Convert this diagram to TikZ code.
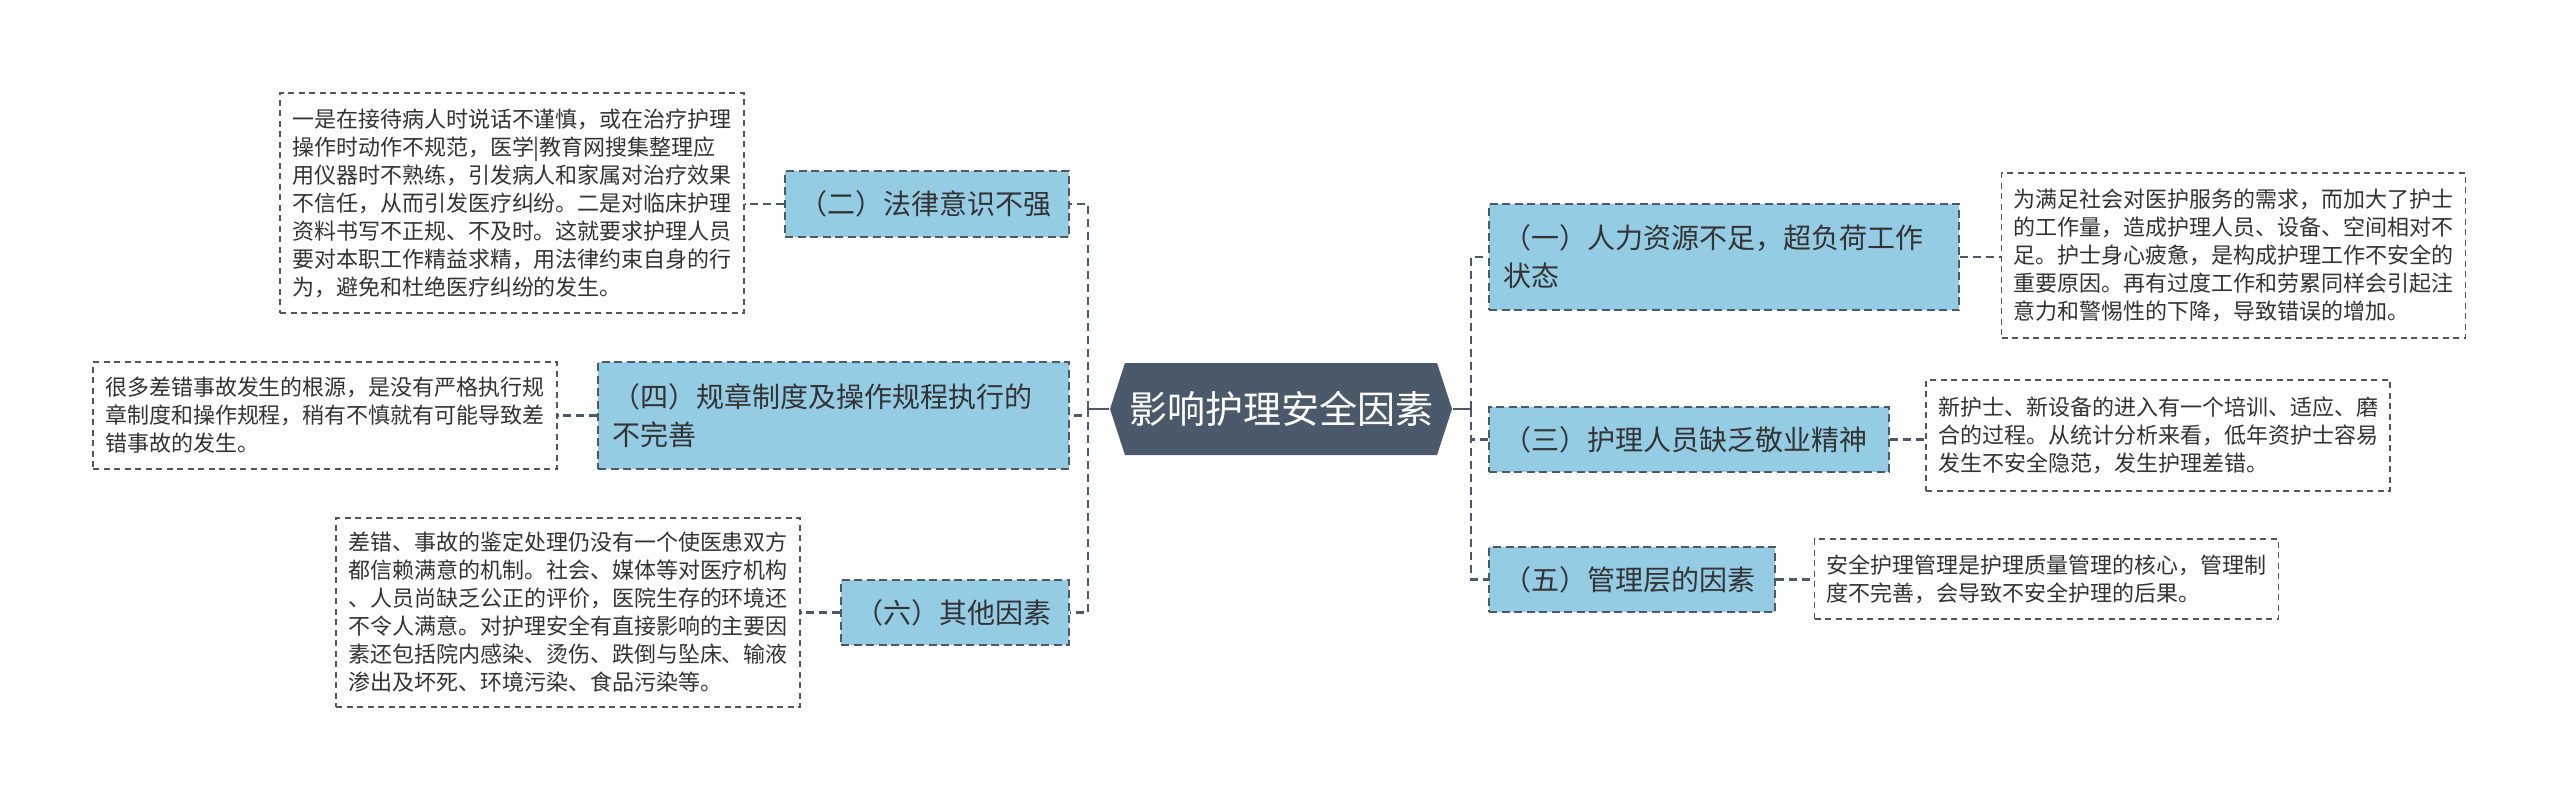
\documentclass[tikz,border=0pt]{standalone}
\usepackage{fontspec}
\setmainfont{Noto Sans CJK SC}
\usetikzlibrary{shapes.symbols}

\definecolor{topicfill}{HTML}{4A5A6A}
\definecolor{causefill}{HTML}{94CCE4}
\definecolor{linkcol}{HTML}{4A5A6A}
\definecolor{notecol}{HTML}{555555}
\definecolor{inkcol}{HTML}{333333}

\begin{document}
\begin{tikzpicture}[x=0.1mm, y=-0.1mm,
    topic/.style={signal, signal to=west and east, signal pointer angle=144,
        fill=topicfill, text=white, font=\fontsize{3.8mm}{4.6mm}\selectfont,
        minimum width=34.2mm, minimum height=9.2mm, inner sep=0pt},
    cause/.style={draw=linkcol, line width=0.2mm, dash pattern=on 0.8mm off 0.45mm,
        fill=causefill, text=inkcol, font=\fontsize{2.8mm}{3.8mm}\selectfont,
        align=left, text width=#1, inner xsep=1.4mm, inner ysep=0pt},
    note/.style={draw=notecol, line width=0.15mm, dash pattern=on 0.6mm off 0.45mm,
        fill=white, text=inkcol, font=\fontsize{2.2mm}{2.8mm}\selectfont,
        align=left, text width=44mm, inner xsep=1.2mm, inner ysep=0pt},
    link/.style={draw=linkcol, line width=0.25mm, dash pattern=on 0.8mm off 0.5mm},
    stub/.style={draw=linkcol, line width=0.25mm}]

    % Canvas
    \useasboundingbox (0,0) rectangle (2560,804);

    % Central topic
    \node[topic] (root) at (1281,409) {影响护理安全因素};

    % Causes on the left
    \node[cause=25.6mm, minimum height=6.6mm] (c2) at (927,204) {（二）法律意识不强};
    \node[cause=44.3mm, minimum height=10.7mm] (c4) at (833.5,415.5) {（四）规章制度及操作规程执行的\\不完善};
    \node[cause=20mm, minimum height=6.5mm] (c6) at (955,612.5) {（六）其他因素};

    % Causes on the right
    \node[cause=44.2mm, minimum height=10.6mm] (c1) at (1724,257) {（一）人力资源不足，超负荷工作\\状态};
    \node[cause=37.2mm, minimum height=6.5mm] (c3) at (1689,439.5) {（三）护理人员缺乏敬业精神};
    \node[cause=25.8mm, minimum height=6.5mm] (c5) at (1632,579.5) {（五）管理层的因素};

    % Explanations
    \node[note, minimum height=22mm] (n2) at (512,203) {一是在接待病人时说话不谨慎，或在治疗护理\\操作时动作不规范，医学|教育网搜集整理应\\用仪器时不熟练，引发病人和家属对治疗效果\\不信任，从而引发医疗纠纷。二是对临床护理\\资料书写不正规、不及时。这就要求护理人员\\要对本职工作精益求精，用法律约束自身的行\\为，避免和杜绝医疗纠纷的发生。};
    \node[note, minimum height=10.7mm] (n4) at (325,415.5) {很多差错事故发生的根源，是没有严格执行规\\章制度和操作规程，稍有不慎就有可能导致差\\错事故的发生。};
    \node[note, minimum height=18.9mm] (n6) at (568,612.5) {差错、事故的鉴定处理仍没有一个使医患双方\\都信赖满意的机制。社会、媒体等对医疗机构\\、人员尚缺乏公正的评价，医院生存的环境还\\不令人满意。对护理安全有直接影响的主要因\\素还包括院内感染、烫伤、跌倒与坠床、输液\\渗出及坏死、环境污染、食品污染等。};
    \node[note, minimum height=16.5mm] (n1) at (2233.5,255.5) {为满足社会对医护服务的需求，而加大了护士\\的工作量，造成护理人员、设备、空间相对不\\足。护士身心疲惫，是构成护理工作不安全的\\重要原因。再有过度工作和劳累同样会引起注\\意力和警惕性的下降，导致错误的增加。};
    \node[note, minimum height=11.1mm] (n3) at (2158,435.5) {新护士、新设备的进入有一个培训、适应、磨\\合的过程。从统计分析来看，低年资护士容易\\发生不安全隐范，发生护理差错。};
    \node[note, minimum height=8mm] (n5) at (2046.5,579) {安全护理管理是护理质量管理的核心，管理制\\度不完善，会导致不安全护理的后果。};

    % Spines
    \coordinate (lspine) at (1088,409);
    \coordinate (rspine) at (1471,409);
    \draw[stub] (root.west) -- (lspine);
    \draw[stub] (root.east) -- (rspine);
    \foreach \c in {c2,c4,c6} {
        \draw[link] (lspine) |- (\c.east);
    }
    \foreach \c in {c1,c3,c5} {
        \draw[link] (rspine) |- (\c.west);
    }

    % Cause to explanation
    \foreach \i in {2,4,6} {
        \draw[link] (c\i.west) -- (c\i.west -| n\i.east);
    }
    \foreach \i in {1,3,5} {
        \draw[link] (c\i.east) -- (c\i.east -| n\i.west);
    }

\end{tikzpicture}
\end{document}
